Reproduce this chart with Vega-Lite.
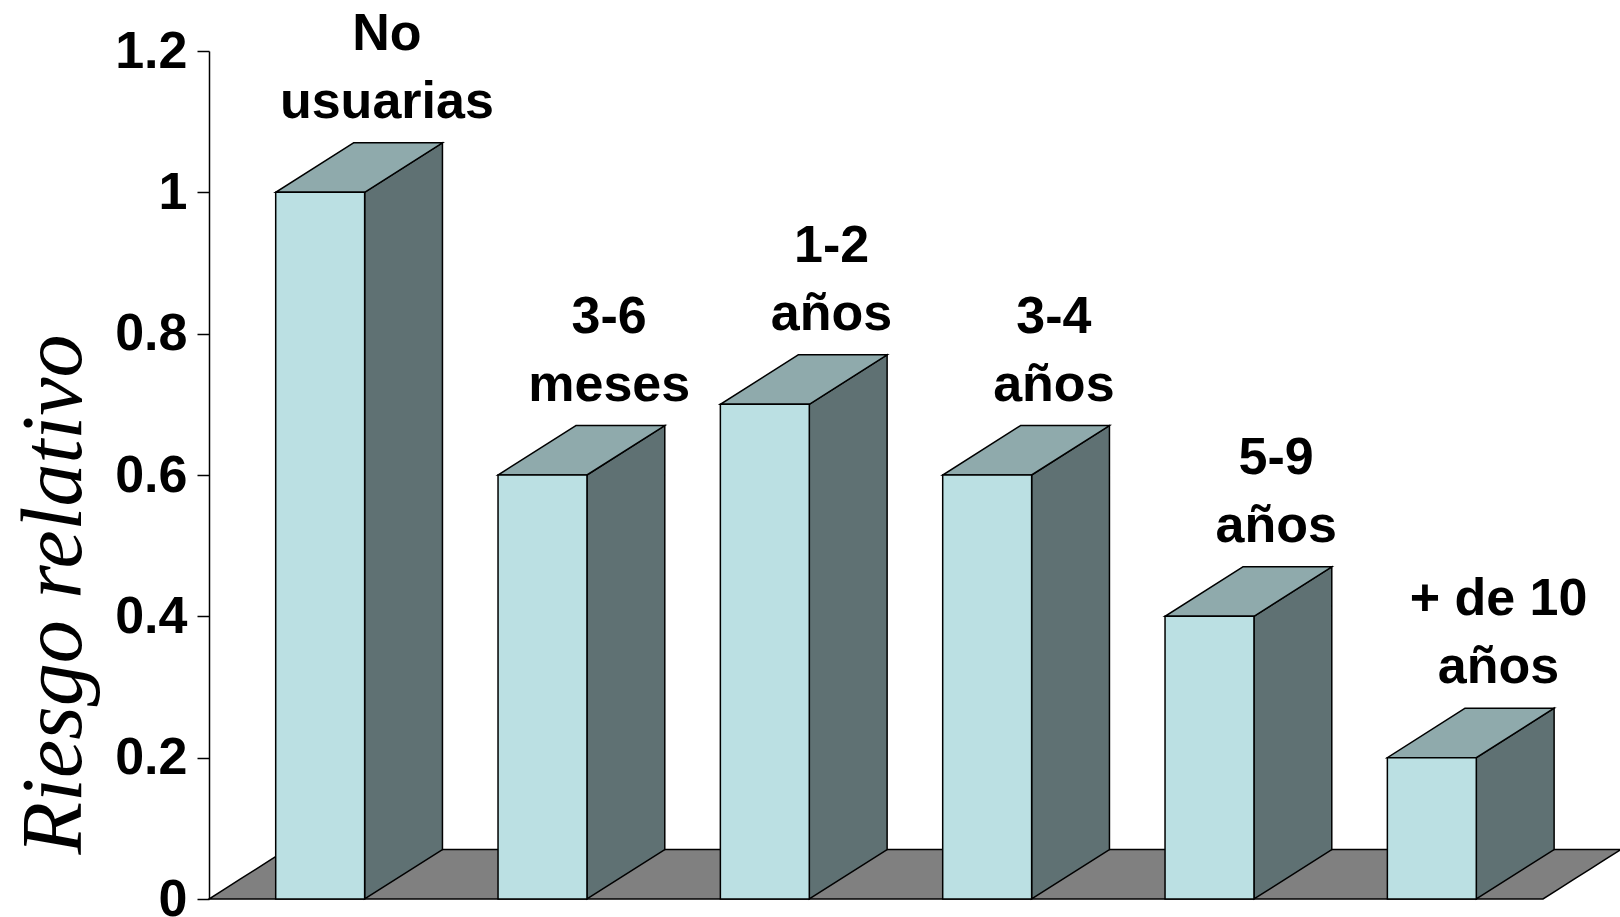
{
  "$schema": "https://vega.github.io/schema/vega-lite/v6.json",
  "width": 1334,
  "height": 848,
  "autosize": "none",
  "padding": {"left": 209, "top": 51, "right": 77, "bottom": 18},
  "background": "white",
  "config": {
    "view": {"stroke": null},
    "axisY": {
      "grid": false,
      "domainColor": "black",
      "domainWidth": 1.5,
      "tickColor": "black",
      "tickWidth": 1.5,
      "tickSize": 12,
      "labelFont": "Liberation Sans",
      "labelFontWeight": "bold",
      "labelFontSize": 52,
      "labelColor": "black",
      "labelPadding": 10,
      "titleFont": "Liberation Serif",
      "titleFontStyle": "italic",
      "titleFontWeight": "normal",
      "titleFontSize": 86,
      "titleColor": "black",
      "titleAngle": -90,
      "titleX": -129,
      "titleY": 543,
      "titleAlign": "center",
      "titleBaseline": "alphabetic"
    }
  },
  "data": {
    "values": [
      {"grupo": "No usuarias", "riesgo": 1.0},
      {"grupo": "3-6 meses", "riesgo": 0.6},
      {"grupo": "1-2 años", "riesgo": 0.7},
      {"grupo": "3-4 años", "riesgo": 0.6},
      {"grupo": "5-9 años", "riesgo": 0.4},
      {"grupo": "+ de 10 años", "riesgo": 0.2}
    ]
  },
  "transform": [
    {"window": [{"op": "row_number", "as": "idx"}]},
    {"joinaggregate": [{"op": "count", "as": "n"}]},
    {"calculate": "datum.idx - 1 + 0.3", "as": "xl"},
    {"calculate": "datum.idx - 1 + 0.7", "as": "xr"}
  ],
  "layer": [
    {
      "transform": [
        {"calculate": "(datum.idx - 1) / (datum.n - 1)", "as": "t"},
        {"calculate": "0.07 * datum.t", "as": "fy"},
        {"calculate": "0.35 * datum.t", "as": "fx"},
        {"calculate": "datum.n + 0.35 * datum.t", "as": "fx2"}
      ],
      "mark": {"type": "area", "orient": "horizontal", "fill": "#808080", "stroke": "black", "strokeWidth": 1.5, "strokeJoin": "miter"},
      "encoding": {
        "y": {"field": "fy", "type": "quantitative", "scale": {"domain": [0, 1.2], "nice": false}, "title": "Riesgo relativo", "axis": {"values": [0, 0.2, 0.4, 0.6, 0.8, 1, 1.2], "format": "~g"}},
        "x": {"field": "fx", "type": "quantitative", "scale": {"domain": [0, 6], "nice": false, "zero": false}, "axis": null},
        "x2": {"field": "fx2"}
      }
    },
    {
      "transform": [
        {"calculate": "datum.riesgo", "as": "frente"},
        {"calculate": "datum.riesgo + 0.07", "as": "fondo"},
        {"fold": ["frente", "fondo"], "as": ["cara", "ytop"]},
        {"calculate": "datum.cara == 'frente' ? datum.xr : datum.xr + 0.35", "as": "sx"},
        {"calculate": "datum.cara == 'frente' ? 0 : 0.07", "as": "sy2"}
      ],
      "mark": {"type": "area", "orient": "vertical", "fill": "#5F7173", "stroke": "black", "strokeWidth": 1.5, "strokeJoin": "miter"},
      "encoding": {
        "x": {"field": "sx", "type": "quantitative", "axis": null},
        "y": {"field": "ytop", "type": "quantitative", "title": "Riesgo relativo", "axis": {"values": [0, 0.2, 0.4, 0.6, 0.8, 1, 1.2], "format": "~g"}},
        "y2": {"field": "sy2"},
        "detail": {"field": "grupo", "type": "nominal"}
      }
    },
    {
      "transform": [
        {"calculate": "datum.riesgo", "as": "frente"},
        {"calculate": "datum.riesgo + 0.07", "as": "fondo"},
        {"fold": ["frente", "fondo"], "as": ["cara", "ytop"]},
        {"calculate": "datum.cara == 'frente' ? datum.xl : datum.xl + 0.35", "as": "tx"},
        {"calculate": "datum.cara == 'frente' ? datum.xr : datum.xr + 0.35", "as": "tx2"}
      ],
      "mark": {"type": "area", "orient": "horizontal", "fill": "#8FAAAC", "stroke": "black", "strokeWidth": 1.5, "strokeJoin": "miter"},
      "encoding": {
        "y": {"field": "ytop", "type": "quantitative", "title": "Riesgo relativo", "axis": {"values": [0, 0.2, 0.4, 0.6, 0.8, 1, 1.2], "format": "~g"}},
        "x": {"field": "tx", "type": "quantitative", "axis": null},
        "x2": {"field": "tx2"},
        "detail": {"field": "grupo", "type": "nominal"}
      }
    },
    {
      "mark": {"type": "rect", "fill": "#BBE0E3", "stroke": "black", "strokeWidth": 1.5},
      "encoding": {
        "x": {"field": "xl", "type": "quantitative", "axis": null},
        "x2": {"field": "xr"},
        "y": {"field": "riesgo", "type": "quantitative", "title": "Riesgo relativo", "axis": {"values": [0, 0.2, 0.4, 0.6, 0.8, 1, 1.2], "format": "~g"}},
        "y2": {"datum": 0}
      }
    },
    {
      "transform": [
        {"calculate": "datum.idx - 1 + 0.8", "as": "lx"},
        {"calculate": "datum.riesgo + 0.07", "as": "ly"},
        {"calculate": "[slice(datum.grupo, 0, lastindexof(datum.grupo, ' ')), slice(datum.grupo, lastindexof(datum.grupo, ' ') + 1)]", "as": "etiqueta"}
      ],
      "mark": {"type": "text", "font": "Liberation Sans", "fontWeight": "bold", "fontSize": 52, "lineHeight": 68, "baseline": "bottom", "align": "center", "dy": -82, "color": "black"},
      "encoding": {
        "x": {"field": "lx", "type": "quantitative", "axis": null},
        "y": {"field": "ly", "type": "quantitative", "title": "Riesgo relativo", "axis": {"values": [0, 0.2, 0.4, 0.6, 0.8, 1, 1.2], "format": "~g"}},
        "text": {"field": "etiqueta", "type": "nominal"}
      }
    }
  ]
}
